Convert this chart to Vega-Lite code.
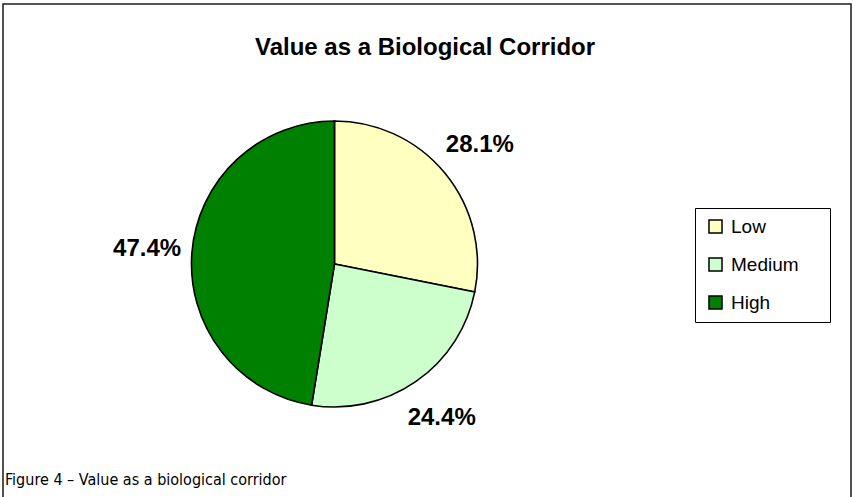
{
  "$schema": "https://vega.github.io/schema/vega-lite/v6.json",
  "autosize": {"type": "none"},
  "padding": {"left": 3, "top": 4, "right": 850, "bottom": 493},
  "background": "white",
  "title": {
    "text": "Value as a Biological Corridor",
    "orient": "top",
    "anchor": "middle",
    "baseline": "alphabetic",
    "offset": -76,
    "dx": -2,
    "font": "Liberation Sans",
    "fontSize": 24,
    "fontWeight": "bold",
    "color": "black"
  },
  "config": {
    "view": {"stroke": "#1a1a1a", "strokeWidth": 1.5},
    "font": "Liberation Sans"
  },
  "vconcat": [
    {
      "width": 848,
      "height": 500,
      "title": {
        "text": "Figure 4 – Value as a biological corridor",
        "orient": "bottom",
        "anchor": "start",
        "baseline": "alphabetic",
        "offset": -19,
        "dx": 2,
        "font": "DejaVu Sans Condensed",
        "fontSize": 16,
        "fontWeight": "normal",
        "color": "black"
      },
      "data": {
        "values": [
          {"chart": "Value as a Biological Corridor", "category": "Low", "share": 0.281, "rank": 1},
          {"chart": "Value as a Biological Corridor", "category": "Medium", "share": 0.244, "rank": 2},
          {"chart": "Value as a Biological Corridor", "category": "High", "share": 0.474, "rank": 3}
        ]
      },
      "encoding": {
        "theta": {"field": "share", "type": "quantitative", "stack": true},
        "order": {"field": "rank", "type": "quantitative"},
        "x": {"field": "chart", "type": "nominal", "scale": {"type": "point", "align": 0.3909}, "axis": null},
        "y": {"field": "chart", "type": "nominal", "scale": {"type": "point", "align": 0.52}, "axis": null}
      },
      "layer": [
        {
          "mark": {"type": "arc", "outerRadius": 143, "stroke": "black", "strokeWidth": 1.6},
          "encoding": {
            "color": {
              "field": "category",
              "type": "nominal",
              "scale": {"domain": ["Low", "Medium", "High"], "range": ["#FFFFC0", "#CCFFCC", "#008000"]},
              "legend": {
                "orient": "none",
                "legendX": 692,
                "legendY": 204,
                "title": null,
                "strokeColor": "black",
                "fillColor": "white",
                "padding": 9,
                "symbolType": "square",
                "symbolSize": 170,
                "symbolStrokeColor": "black",
                "symbolStrokeWidth": 1.5,
                "symbolOpacity": 1,
                "labelFont": "Liberation Sans",
                "labelFontSize": 19,
                "labelColor": "black",
                "rowPadding": 17,
                "labelOffset": 6,
                "symbolOffset": 2,
                "labelExpr": "datum.label + '\u2009\u2009\u2800'"
              }
            }
          }
        },
        {
          "mark": {"type": "text", "radius": 188, "fontSize": 24, "fontWeight": "bold", "font": "Liberation Sans", "align": "center", "baseline": "middle", "color": "black"},
          "encoding": {
            "detail": {"field": "category", "type": "nominal"},
            "text": {"field": "share", "type": "quantitative", "format": ".1%"}
          }
        }
      ]
    }
  ]
}
